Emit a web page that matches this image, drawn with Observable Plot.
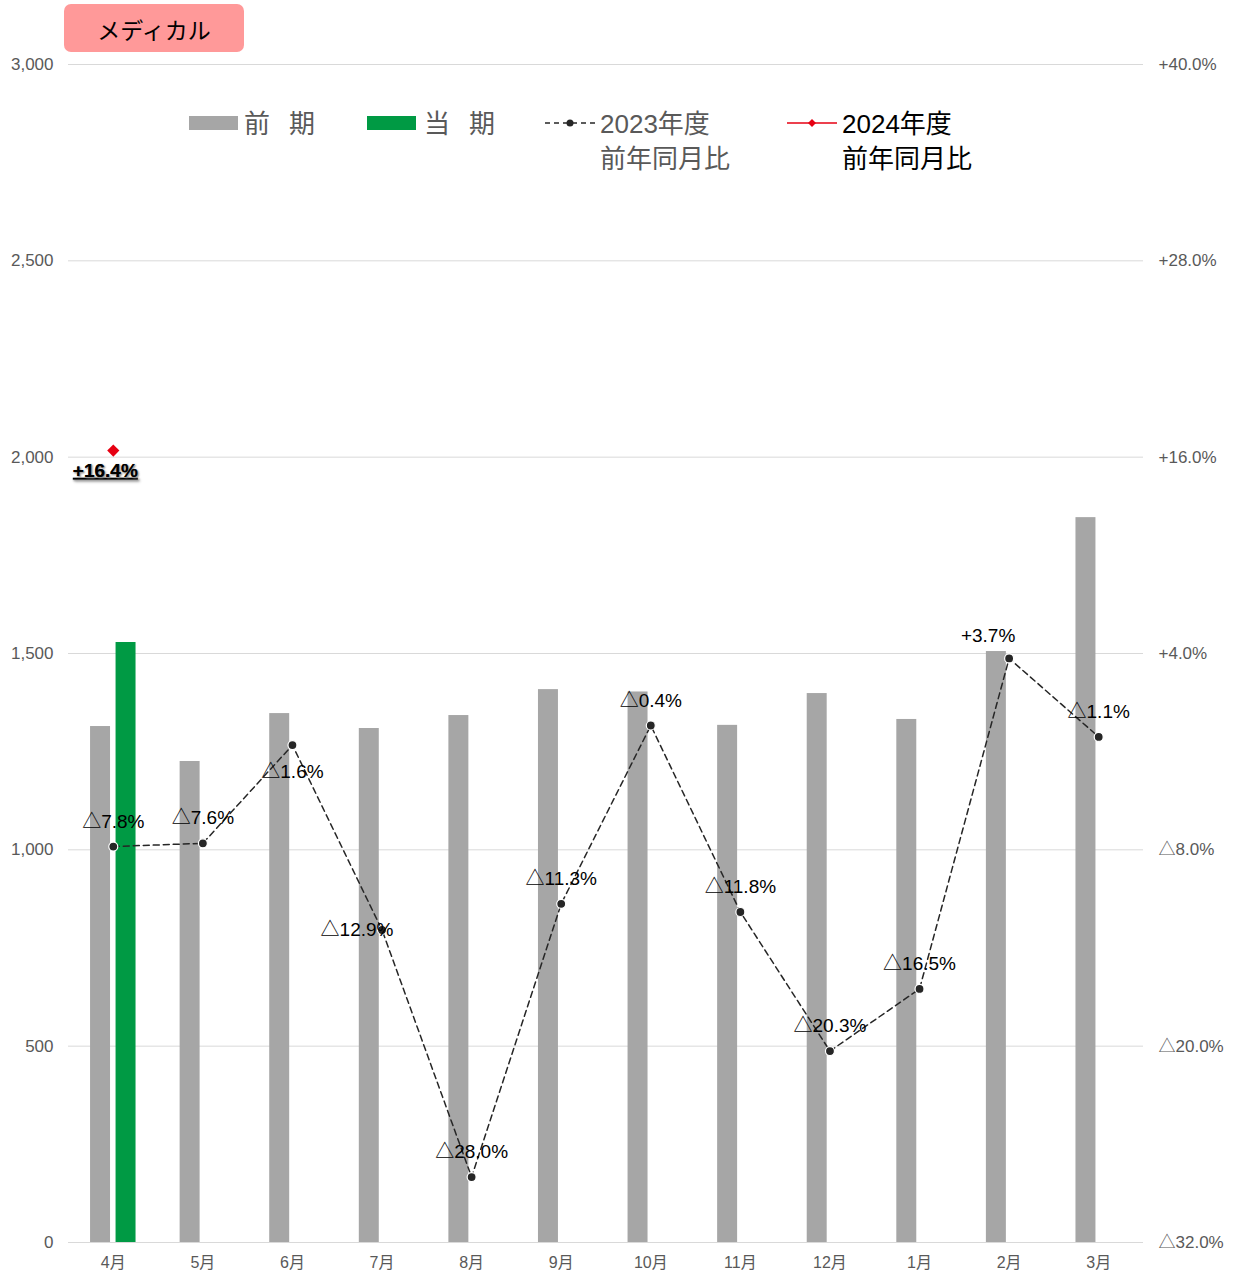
<!DOCTYPE html>
<html><head><meta charset="utf-8">
<script src="https://cdn.jsdelivr.net/npm/d3@7"></script>
<script src="https://cdn.jsdelivr.net/npm/@observablehq/plot@0.6"></script>
<style>
body{margin:0;background:#fff;font-family:"Liberation Sans","Noto Sans CJK JP",sans-serif;}
#wrap{position:relative;width:1236px;height:1274px;}
#chart{position:absolute;left:0;top:0;}
.title{position:absolute;left:64px;top:4px;width:180px;height:48px;background:#ff9999;border-radius:7px;
  font-family:"Noto Sans CJK JP",sans-serif;font-size:23px;line-height:50px;text-align:center;color:#000;}
.lg{position:absolute;font-family:"Liberation Sans","Noto Sans CJK JP",sans-serif;font-size:26px;line-height:35px;white-space:nowrap;}
.sw{position:absolute;}
</style></head><body>
<div id="wrap">
<div id="chart"></div>
<div class="title">メディカル</div>
<div class="sw" style="left:189px;top:116px;width:49px;height:14px;background:#a6a6a6"></div>
<div class="lg" style="left:244px;top:107px;color:#595959">前<span style="margin-left:19px">期</span></div>
<div class="sw" style="left:367px;top:116px;width:49px;height:14px;background:#009a44"></div>
<div class="lg" style="left:424px;top:107px;color:#595959">当<span style="margin-left:19px">期</span></div>
<svg class="sw" style="left:543px;top:113px" width="54" height="20"><line x1="2" y1="10" x2="52" y2="10" stroke="#262626" stroke-width="1.5" stroke-dasharray="5,4"/><circle cx="27" cy="10" r="3.5" fill="#262626"/></svg>
<div class="lg" style="left:600px;top:107px;color:#595959">2023年度<br>前年同月比</div>
<svg class="sw" style="left:785px;top:113px" width="54" height="20"><line x1="2" y1="10" x2="52" y2="10" stroke="#e60012" stroke-width="1.5"/><path d="M27,6 L31,10 L27,14 L23,10 Z" fill="#e60012"/></svg>
<div class="lg" style="left:842px;top:107px;color:#000">2024年度<br>前年同月比</div>
</div>
<script>
const months = ["4月","5月","6月","7月","8月","9月","10月","11月","12月","1月","2月","3月"];
const prevValues = [1314,1225,1347,1309,1342,1408,1402,1317,1398,1332,1505,1846];
const currMonths = ["4月"];
const currValues = [1528];
const yoy2023 = [-7.8,-7.6,-1.6,-12.9,-28.0,-11.3,-0.4,-11.8,-20.3,-16.5,3.7,-1.1];
const yoy2024Months = ["4月"];
const yoy2024 = [16.4];
const leftTicks = [0,500,1000,1500,2000,2500,3000];
const rightTicks = [-32,-20,-8,4,16,28,40];

const pMin = -32, pMax = 40, yMax = 3000;
const toLeft = p => (p - pMin) / (pMax - pMin) * yMax;
const fromLeft = v => v / yMax * (pMax - pMin) + pMin;
const fmtPct = p => (p >= 0 ? "+" : "△") + Math.abs(p).toFixed(1) + "%";

const prevData = months.map((m,i)=>({month:m, value:prevValues[i]}));
const currData = currMonths.map((m,i)=>({month:m, value:currValues[i]}));
const line23 = months.map((m,i)=>({month:m, p:yoy2023[i], y:toLeft(yoy2023[i]), label:fmtPct(yoy2023[i])}));
const line24 = yoy2024Months.map((m,i)=>({month:m, p:yoy2024[i], y:toLeft(yoy2024[i]), label:fmtPct(yoy2024[i])}));

const belowMonths = ["6月"], leftMonths = ["7月"], leftAboveMonths = ["2月"];
const special = [...belowMonths, ...leftMonths, ...leftAboveMonths];
const font = '"Liberation Sans","Noto Sans CJK JP",sans-serif';

const chart = Plot.plot({
  width:1236, height:1274, marginLeft:68, marginRight:93, marginTop:64, marginBottom:32,
  style:{fontFamily:font, fontSize:"17px", color:"#595959", background:"transparent"},
  x:{domain:months, paddingInner:0.777, paddingOuter:0.3885, round:false, label:null},
  y:{domain:[0,yMax], label:null},
  marks:[
    Plot.ruleY(leftTicks, {stroke:"#d9d9d9", strokeWidth:1}),
    Plot.axisY({ticks:leftTicks, tickFormat:d3.format(","), anchor:"left", tickSize:0, tickPadding:15, label:null, fontSize:17}),
    Plot.axisY({ticks:rightTicks.map(toLeft), tickFormat:v=>fmtPct(fromLeft(v)), anchor:"right", tickSize:0, tickPadding:15, label:null, fontSize:17}),
    Plot.axisX({tickSize:0, tickPadding:14, label:null, fontSize:16}),
    Plot.barY(prevData, {x:"month", y:"value", fill:"#a6a6a6", dx:-12.75}),
    Plot.barY(currData, {x:"month", y:"value", fill:"#009a44", dx:12.75}),
    Plot.line(line23, {x:"month", y:"y", stroke:"#262626", strokeWidth:1.5, strokeDasharray:"6,4"}),
    Plot.dot(line23, {x:"month", y:"y", r:4.5, fill:"#262626", stroke:"white", strokeWidth:1.2}),
    Plot.text(line23.filter(d=>!special.includes(d.month)), {x:"month", y:"y", text:"label", dy:-25, fontSize:19, fill:"#000"}),
    Plot.text(line23.filter(d=>belowMonths.includes(d.month)), {x:"month", y:"y", text:"label", dy:27, fontSize:19, fill:"#000"}),
    Plot.text(line23.filter(d=>leftMonths.includes(d.month)), {x:"month", y:"y", text:"label", dx:-25, fontSize:19, fill:"#000"}),
    Plot.text(line23.filter(d=>leftAboveMonths.includes(d.month)), {x:"month", y:"y", text:"label", dx:-21, dy:-23, fontSize:19, fill:"#000"}),
    Plot.dot(line24, {x:"month", y:"y", symbol:"diamond2", r:5.5, fill:"#e60012"}),
    Plot.text(line24, {x:"month", y:"y", text:"label", dx:-8, dy:20, fontSize:19, fontWeight:"bold", fill:"#000"})
  ]
});
d3.select(chart).selectAll("text").filter(function(){ return this.textContent === fmtPct(yoy2024[0]); })
  .style("text-decoration","underline").style("text-shadow","1px 1px 2px #999");
document.getElementById("chart").appendChild(chart);
</script>
</body></html>
